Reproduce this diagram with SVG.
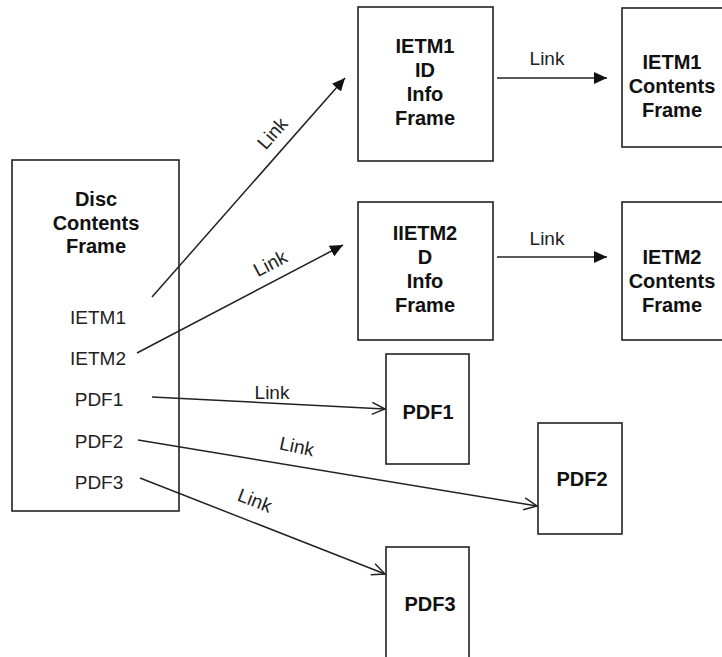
<svg xmlns="http://www.w3.org/2000/svg" width="722" height="657" viewBox="0 0 722 657">
<defs>
<style>
.box{fill:#fff;stroke:#222;stroke-width:1.6}
.t{font-family:"Liberation Sans",Arial,sans-serif;font-size:20px;font-weight:bold;fill:#111;text-anchor:middle}
.l{font-family:"Liberation Sans",Arial,sans-serif;font-size:19px;fill:#222;text-anchor:middle}
.c{fill:none;stroke:#222;stroke-width:1.5}
</style>
<marker id="fa" markerUnits="userSpaceOnUse" markerWidth="14" markerHeight="12" refX="13" refY="6" orient="auto"><path d="M0,0 L13,6 L0,12 z" fill="#111"/></marker>
<marker id="oa" markerUnits="userSpaceOnUse" markerWidth="16" markerHeight="14" refX="14" refY="7" orient="auto"><path d="M1,1 L14,7 L1,13" fill="none" stroke="#222" stroke-width="1.5"/></marker>
</defs>
<rect width="722" height="657" fill="#fff"/>
<g id="disc">
<rect class="box" x="12" y="160" width="167" height="351"/>
<text class="t" x="96" y="206">Disc</text>
<text class="t" x="96" y="230">Contents</text>
<text class="t" x="96" y="253">Frame</text>
<text class="l" x="98" y="324">IETM1</text>
<text class="l" x="98" y="365">IETM2</text>
<text class="l" x="99" y="406">PDF1</text>
<text class="l" x="99" y="448">PDF2</text>
<text class="l" x="99" y="489">PDF3</text>
</g>
<g id="ietm1id">
<rect class="box" x="358" y="7" width="135" height="154"/>
<text class="t" x="425" y="53">IETM1</text>
<text class="t" x="425" y="77">ID</text>
<text class="t" x="425" y="101">Info</text>
<text class="t" x="425" y="125">Frame</text>
</g>
<g id="ietm1contents">
<rect class="box" x="622" y="8" width="110" height="139"/>
<text class="t" x="672" y="69">IETM1</text>
<text class="t" x="672" y="93">Contents</text>
<text class="t" x="672" y="117">Frame</text>
</g>
<g id="ietm2id">
<rect class="box" x="358" y="202" width="135" height="138"/>
<text class="t" x="425" y="240">IIETM2</text>
<text class="t" x="425" y="264">D</text>
<text class="t" x="425" y="288">Info</text>
<text class="t" x="425" y="312">Frame</text>
</g>
<g id="ietm2contents">
<rect class="box" x="622" y="202" width="110" height="138"/>
<text class="t" x="672" y="264">IETM2</text>
<text class="t" x="672" y="288">Contents</text>
<text class="t" x="672" y="312">Frame</text>
</g>
<g id="pdf1">
<rect class="box" x="386" y="354" width="83" height="110"/>
<text class="t" x="428" y="419">PDF1</text>
</g>
<g id="pdf2">
<rect class="box" x="538" y="423" width="84" height="111"/>
<text class="t" x="582" y="486">PDF2</text>
</g>
<g id="pdf3">
<rect class="box" x="386" y="547" width="83" height="120"/>
<text class="t" x="430" y="611">PDF3</text>
</g>
<g id="connectors">
<line class="c" x1="152" y1="297" x2="345" y2="78" marker-end="url(#fa)"/>
<line class="c" x1="137" y1="353" x2="343" y2="245" marker-end="url(#fa)"/>
<line class="c" x1="497" y1="78" x2="607" y2="78" marker-end="url(#fa)"/>
<line class="c" x1="497" y1="257" x2="607" y2="257" marker-end="url(#fa)"/>
<line class="c" x1="152" y1="397" x2="385" y2="409" marker-end="url(#oa)"/>
<line class="c" x1="138" y1="440" x2="537" y2="506" marker-end="url(#oa)"/>
<line class="c" x1="140" y1="478" x2="385" y2="574" marker-end="url(#oa)"/>
<text class="l" transform="translate(272,133) rotate(-48.6)" y="7">Link</text>
<text class="l" transform="translate(270,263) rotate(-27.7)" y="7">Link</text>
<text class="l" x="547" y="65">Link</text>
<text class="l" x="547" y="245">Link</text>
<text class="l" x="272" y="399">Link</text>
<text class="l" transform="translate(297,446) rotate(12)" y="7">Link</text>
<text class="l" transform="translate(255,500) rotate(21)" y="7">Link</text>
</g>
</svg>
